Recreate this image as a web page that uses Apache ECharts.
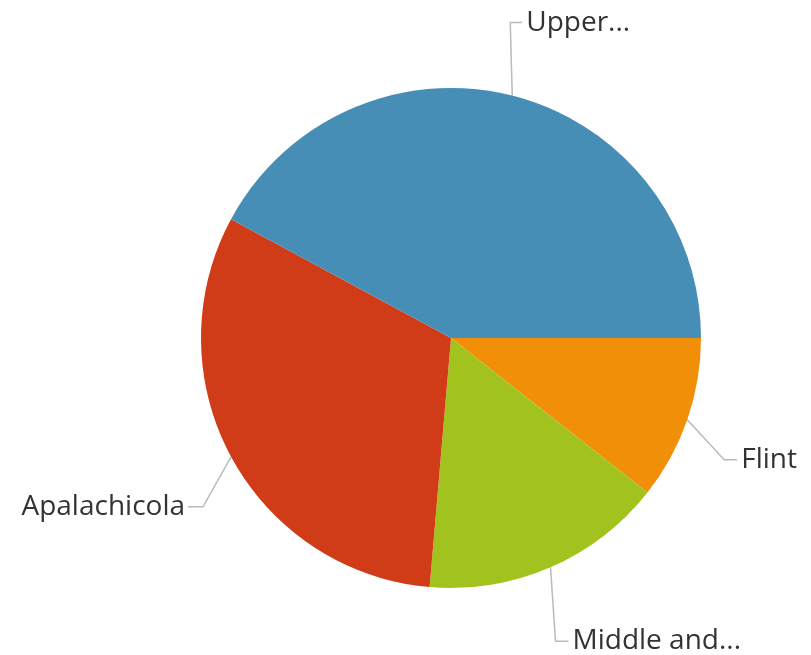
<!DOCTYPE html>
<html>
<head>
<meta charset="utf-8">
<script src="https://cdn.jsdelivr.net/npm/echarts@6/dist/echarts.min.js"></script>
<style>
html,body{margin:0;padding:0;background:#fff;}
#chart{width:811px;height:655px;}
</style>
</head>
<body>
<div id="chart"></div>
<script>
// Data (clockwise from 3 o'clock)
var categories = ['Flint', 'Middle and...', 'Apalachicola', 'Upper...'];
var values = [10.6, 15.75, 31.5, 42.1];

// Styling (kept separate from data)
var colors = ['#F28F08', '#A2C31E', '#D03C17', '#468EB6'];
// connector bend offsets relative to the slice edge point (label-line styling)
var bendDx = [37, 5, -28, -2];
var bendDy = [40, 74, 50, -73];
var tailLen = [13, 13, 15, 12];

var chart = echarts.init(document.getElementById('chart'));
var data = categories.map(function (c, i) {
  return { name: c, value: values[i], itemStyle: { color: colors[i] } };
});
chart.setOption({
  animation: false,
  series: [{
    type: 'pie',
    center: [451, 338],
    radius: 250,
    startAngle: 0,
    clockwise: true,
    data: data,
    label: {
      show: true,
      formatter: '{b}',
      color: '#333',
      fontSize: 28,
      fontFamily: 'Open Sans',
      overflow: 'none'
    },
    labelLine: {
      show: true,
      length: 40,
      length2: 12,
      lineStyle: { color: '#bbb', width: 1.5 }
    },
    labelLayout: function (p) {
      var i = p.dataIndex;
      var pts = p.labelLinePoints;
      if (!pts) return {};
      var p0 = pts[0];
      var p1 = [p0[0] + bendDx[i], p0[1] + bendDy[i]];
      var left = p1[0] < 451;
      var p2 = [p1[0] + (left ? -tailLen[i] : tailLen[i]), p1[1]];
      return {
        x: p2[0] + (left ? -3 : 4),
        y: p2[1],
        align: left ? 'right' : 'left',
        verticalAlign: 'middle',
        labelLinePoints: [p0, p1, p2]
      };
    },
    itemStyle: { borderWidth: 0 },
    emphasis: { disabled: true }
  }]
});
</script>
</body>
</html>
